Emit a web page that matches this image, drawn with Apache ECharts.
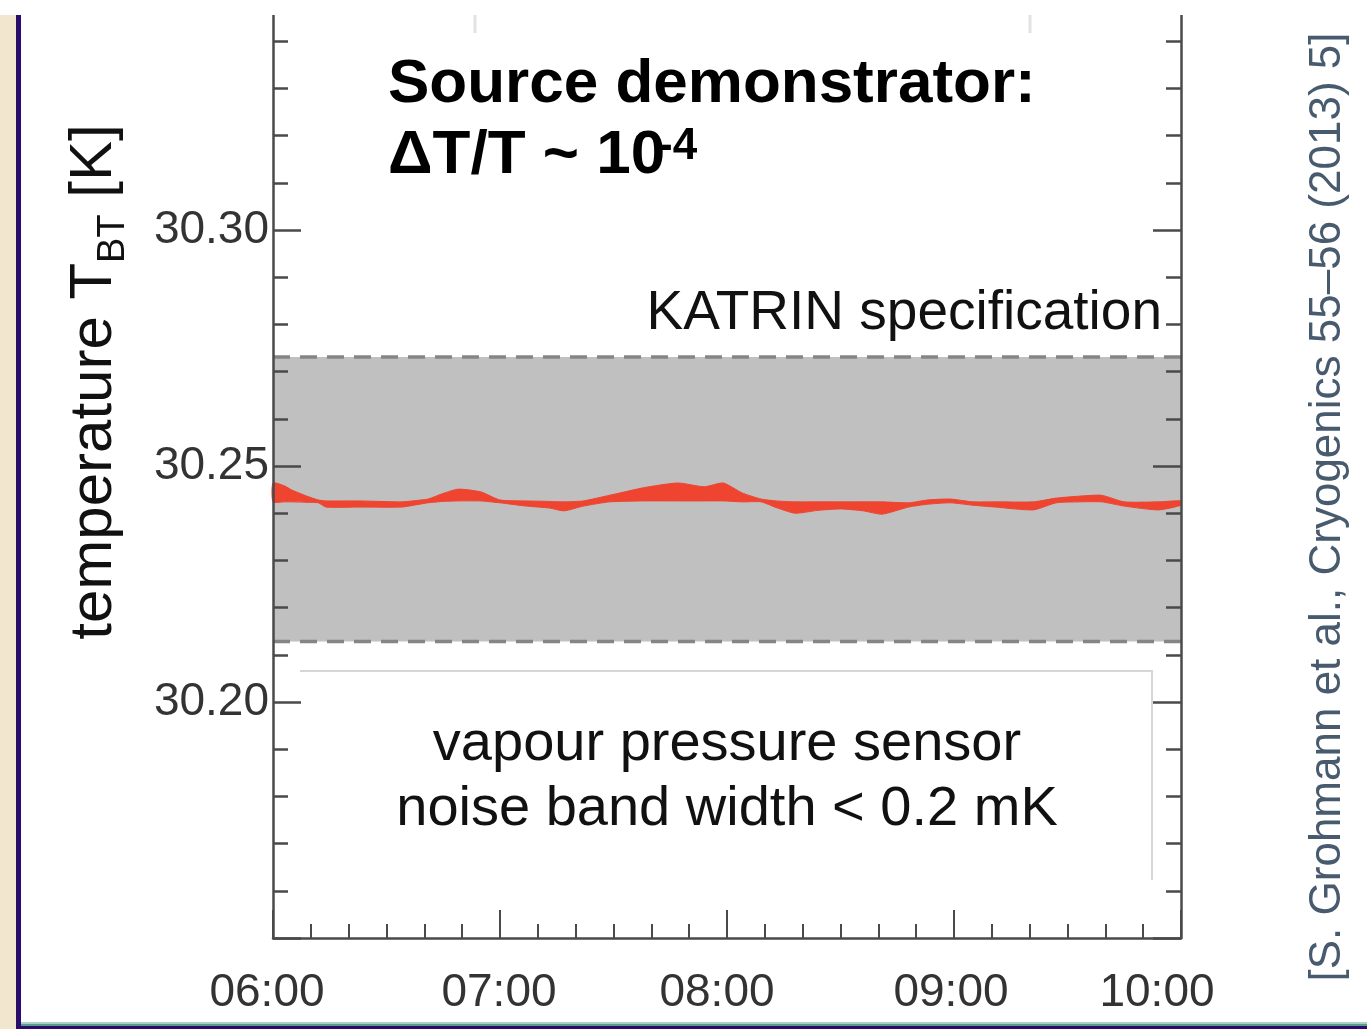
<!DOCTYPE html>
<html>
<head>
<meta charset="utf-8">
<title>Source demonstrator</title>
<script src="https://cdn.jsdelivr.net/npm/echarts@6/dist/echarts.min.js"></script>
<style>
    html, body { margin: 0; padding: 0; background: #fff; }
    #chart { width: 1367px; height: 1029px; }
</style>
</head>
<body>
<div id="chart"></div>
<script>
// sample times (hh:mm) and the lower / upper edge of the red noise band [K]
const sampleTimes = ['06:00', '06:03', '06:05', '06:09', '06:12', '06:14', '06:23', '06:34', '06:38', '06:41', '06:45', '06:49', '06:55',
    '07:00', '07:07', '07:13', '07:17', '07:22', '07:29', '07:38', '07:47', '07:54', '07:59',
    '08:04', '08:09', '08:13', '08:18', '08:24', '08:30', '08:36', '08:41', '08:48', '08:53', '08:59',
    '09:05', '09:11', '09:21', '09:27', '09:33', '09:39', '09:45', '09:54', '10:00'];
const noiseLow = [30.2424, 30.2424, 30.2424, 30.2423, 30.2422, 30.2413, 30.2413, 30.2413, 30.2418, 30.2422, 30.2425, 30.2426, 30.2426,
    30.2422, 30.2415, 30.2411, 30.2405, 30.2415, 30.2424, 30.2426, 30.2426, 30.2426, 30.2426,
    30.2424, 30.2424, 30.2412, 30.2400, 30.2406, 30.2409, 30.2405, 30.2398, 30.2413, 30.2419, 30.2422,
    30.2417, 30.2413, 30.2407, 30.2422, 30.2424, 30.2424, 30.2415, 30.2407, 30.2417];
const noiseHigh = [30.2464, 30.2458, 30.2449, 30.2436, 30.2428, 30.2426, 30.2426, 30.2424, 30.2427, 30.2430, 30.2442, 30.2451, 30.2445,
    30.2428, 30.2426, 30.2425, 30.2424, 30.2426, 30.2438, 30.2454, 30.2464, 30.2456, 30.2464,
    30.2443, 30.2430, 30.2426, 30.2424, 30.2424, 30.2424, 30.2424, 30.2424, 30.2422, 30.2428, 30.2430,
    30.2424, 30.2424, 30.2424, 30.2432, 30.2436, 30.2438, 30.2424, 30.2424, 30.2426];

// KATRIN specification band [K]
const specLow = 30.2128;
const specHigh = 30.2731;

// axis ticks
const timeTicks = ['06:00', '07:00', '08:00', '09:00', '10:00'];
const tempLabels = ['30.20', '30.25', '30.30'];
const tempMin = 30.15, tempMax = 30.35, tempStep = 0.05;

function toMinutes(t) {
    const p = t.split(':');
    return (Number(p[0]) - 6) * 60 + Number(p[1]);
}

const noiseData = sampleTimes.map((t, i) => [toMinutes(t), noiseLow[i], noiseHigh[i]]);
const tStart = toMinutes(timeTicks[0]);
const tEnd = toMinutes(timeTicks[timeTicks.length - 1]);

const FONT = '"Liberation Sans", Arial, sans-serif';
const axisColor = '#4a4a4a';
const red = '#ee4430';

const chart = echarts.init(document.getElementById('chart'));

const yAxisBase = {
    type: 'value',
    min: tempMin, max: tempMax, interval: tempStep,
    z: 5,
    splitLine: { show: false },
    axisLine: { show: true, lineStyle: { color: axisColor, width: 2.5 } },
    axisTick: { show: true, inside: true, length: 28, lineStyle: { color: axisColor, width: 2.5 } },
    minorTick: { show: true, splitNumber: 5, length: 15, lineStyle: { color: axisColor, width: 2.5 } }
};

// the noise band is one polygon: upper edge forward, lower edge back
function renderNoise(params, api) {
    if (params.dataIndex !== 0) return null;
    const upper = noiseData.map(d => api.coord([d[0], d[2]]));
    const lower = noiseData.map(d => api.coord([d[0], d[1]])).reverse();
    return {
        type: 'polygon',
        shape: { points: upper.concat(lower), smooth: 0.2 },
        style: { fill: red, stroke: red, lineWidth: 1 }
    };
}

function specLine(name, v) {
    return {
        name: name,
        type: 'line',
        data: [[tStart, v], [tEnd, v]],
        symbol: 'none',
        silent: true,
        z: 2,
        lineStyle: { color: '#858585', width: 3.5, type: [17, 10] }
    };
}

// x labels in the original sit a little left of their ticks
const xLabelRich = {};
[12, 2, 20, 6, 48].forEach((pad, i) => {
    xLabelRich['t' + i] = { fontSize: 46, color: '#333', fontFamily: FONT, padding: [0, pad, 0, 0] };
});

chart.setOption({
    animation: false,
    backgroundColor: '#fff',
    grid: { left: 273, right: 186, top: -6, bottom: 91, outerBoundsMode: 'none' },
    xAxis: {
        type: 'value',
        min: tStart, max: tEnd, interval: 60,
        z: 5,
        splitLine: { show: false },
        axisLine: { lineStyle: { color: axisColor, width: 2.5 } },
        axisTick: { inside: true, length: 28, lineStyle: { color: axisColor, width: 2 } },
        minorTick: { show: true, splitNumber: 6, length: 14, lineStyle: { color: axisColor, width: 2 } },
        axisLabel: {
            margin: 32, fontSize: 46, color: '#333', fontFamily: FONT,
            rich: xLabelRich,
            formatter: v => {
                const i = Math.round(v / 60);
                return '{t' + i + '|' + timeTicks[i] + '}';
            }
        }
    },
    yAxis: [
        Object.assign({}, yAxisBase, {
            position: 'left',
            axisLabel: {
                margin: 4, fontSize: 46, color: '#333', fontFamily: FONT,
                formatter: v => tempLabels.indexOf(v.toFixed(2)) >= 0 ? v.toFixed(2) : ''
            }
        }),
        Object.assign({}, yAxisBase, {
            position: 'right',
            axisLabel: { show: false }
        })
    ],
    series: [
        {
            name: 'KATRIN specification',
            type: 'line',
            data: [],
            z: 1,
            silent: true,
            markArea: {
                silent: true,
                itemStyle: { color: '#c0c0c0' },
                data: [[{ yAxis: specLow }, { yAxis: specHigh }]]
            }
        },
        specLine('spec low', specLow),
        specLine('spec high', specHigh),
        {
            name: 'vapour pressure sensor',
            type: 'custom',
            data: noiseData,
            encode: { x: 0, y: [1, 2] },
            silent: true,
            z: 3,
            renderItem: renderNoise
        }
    ],
    graphic: [
        // slide frame
        { type: 'rect', z: 100, shape: { x: 0, y: 0, width: 1367, height: 15 }, style: { fill: '#fff' } },
        { type: 'rect', z: 100, shape: { x: 0, y: 15, width: 16, height: 1014 }, style: { fill: '#f2e6cf' } },
        { type: 'rect', z: 100, shape: { x: 16, y: 15, width: 5, height: 1014 }, style: { fill: '#2b0c6b' } },
        { type: 'rect', z: 100, shape: { x: 21, y: 1022, width: 1346, height: 2 }, style: { fill: '#a8d2c4' } },
        { type: 'rect', z: 100, shape: { x: 21, y: 1024, width: 1346, height: 2 }, style: { fill: '#5a9c8e' } },
        { type: 'rect', z: 100, shape: { x: 16, y: 1026, width: 1351, height: 3 }, style: { fill: '#2b0c6b' } },
        // faint marks at the cropped top
        { type: 'line', z: 99, shape: { x1: 475, y1: 15, x2: 475, y2: 33 }, style: { stroke: '#e2e2e2', lineWidth: 3 } },
        { type: 'line', z: 99, shape: { x1: 1030, y1: 15, x2: 1030, y2: 33 }, style: { stroke: '#e2e2e2', lineWidth: 3 } },
        // text box border
        {
            type: 'polyline', z: 20,
            shape: { points: [[300, 671], [1152, 671], [1152, 880]] },
            style: { stroke: '#d6d6d6', lineWidth: 2, fill: null }
        },
        // annotations
        {
            type: 'text', z: 20, x: 388, y: 85,
            style: { text: 'Source demonstrator:', font: 'bold 62px ' + FONT, fill: '#000', verticalAlign: 'middle' }
        },
        {
            type: 'text', z: 20, x: 388, y: 156,
            style: { text: 'ΔT/T ~ 10', font: 'bold 62px ' + FONT, fill: '#000', verticalAlign: 'middle' }
        },
        {
            type: 'text', z: 20, x: 658, y: 147,
            style: { text: '-4', font: 'bold 44px ' + FONT, fill: '#000', verticalAlign: 'middle' }
        },
        {
            type: 'text', z: 20, x: 1162, y: 314,
            style: { text: 'KATRIN specification', font: '55px ' + FONT, fill: '#111', align: 'right', verticalAlign: 'middle' }
        },
        {
            type: 'text', z: 20, x: 727, y: 745,
            style: { text: 'vapour pressure sensor', font: '56px ' + FONT, fill: '#111', align: 'center', verticalAlign: 'middle' }
        },
        {
            type: 'text', z: 20, x: 727, y: 810,
            style: { text: 'noise band width < 0.2 mK', font: '56px ' + FONT, fill: '#111', align: 'center', verticalAlign: 'middle' }
        },
        // y axis title, with subscript
        {
            type: 'text', z: 20, x: 94, y: 382, rotation: Math.PI / 2,
            style: {
                text: '{n|temperature T}{sub|BT}{n| [K]}',
                align: 'center', verticalAlign: 'middle',
                rich: {
                    n: { fontSize: 60, fontFamily: FONT, fill: '#111', lineHeight: 78 },
                    sub: { fontSize: 38, fontFamily: FONT, fill: '#111', lineHeight: 78, verticalAlign: 'bottom' }
                }
            }
        },
        // citation
        {
            type: 'text', z: 20, x: 1328, y: 507, rotation: Math.PI / 2,
            style: {
                text: '[S. Grohmann et al., Cryogenics 55–56 (2013) 5]',
                font: '44px ' + FONT, fill: '#475a6e', align: 'center', verticalAlign: 'middle'
            }
        }
    ]
});

window.addEventListener('resize', () => chart.resize());
</script>
</body>
</html>
